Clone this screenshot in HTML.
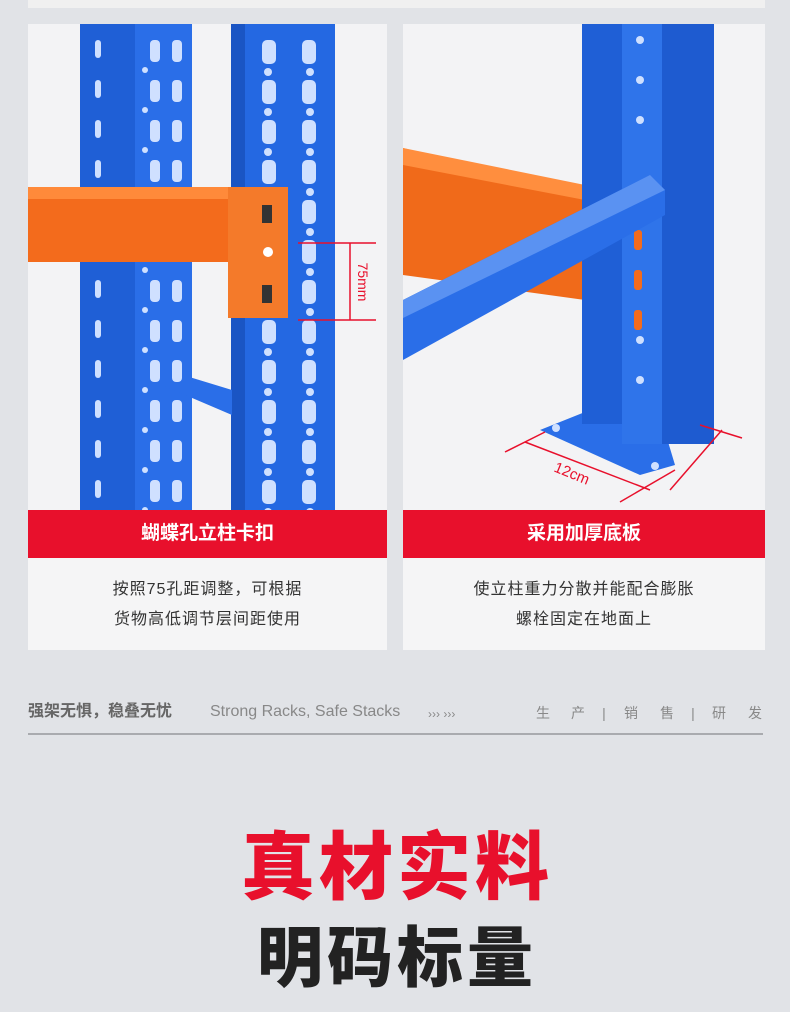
<!DOCTYPE html>
<html><head><meta charset="utf-8"><style>
body{margin:0;width:790px;height:1012px;background:#e1e3e7;position:relative;overflow:hidden;font-family:"Liberation Sans","Noto Sans CJK SC",sans-serif}
.card{position:absolute;top:24px;width:359px;height:626px;background:#f4f4f6}
.bar{position:absolute;top:486px;left:0;right:0;height:48px;background:#e8102c;color:#fff;font-size:19px;font-weight:bold;text-align:center;line-height:48px}
.txt{position:absolute;top:534px;left:0;right:0;height:92px;background:#f5f5f6;color:#333;font-size:16px;text-align:center;line-height:30px;padding-top:17px;box-sizing:border-box;letter-spacing:1px}
.ft{position:absolute;top:702px;color:#777;font-size:16px;line-height:20px}
.n{position:absolute;top:704px;color:#888;font-size:14px;line-height:18px;width:20px;text-align:center}
</style></head><body>
<div style="position:absolute;left:28px;top:0;width:737px;height:8px;background:#f0f0f0"></div>
<div class="card" style="left:28px">
<svg width="359" height="486" viewBox="28 24 359 486" style="position:absolute;left:0;top:0">
<rect x="28" y="24" width="359" height="486" fill="#f3f3f5"/>
<rect x="80" y="24" width="55" height="486" fill="#1f5fd6"/>
<rect x="135" y="24" width="57" height="486" fill="#2a6ee8"/>
<rect x="231" y="24" width="104" height="486" fill="#2468e2"/>
<rect x="231" y="24" width="14" height="486" fill="#1a55c4"/>
<polygon points="150,365 232,390 232,415 150,380" fill="#2a6ee8"/>
<g fill="#cfe0ff">
<g id="h"><rect x="150" y="40" width="10" height="22" rx="4"/><rect x="172" y="40" width="10" height="22" rx="4"/><circle cx="145" cy="70" r="3"/><rect x="95" y="40" width="6" height="18" rx="3"/></g>
<use href="#h" y="40"/><use href="#h" y="80"/><use href="#h" y="120"/><use href="#h" y="160"/><use href="#h" y="200"/><use href="#h" y="240"/><use href="#h" y="280"/><use href="#h" y="320"/><use href="#h" y="360"/><use href="#h" y="400"/><use href="#h" y="440"/>
<g id="g"><rect x="262" y="40" width="14" height="24" rx="5"/><rect x="302" y="40" width="14" height="24" rx="5"/><circle cx="268" cy="72" r="4"/><circle cx="310" cy="72" r="4"/></g>
<use href="#g" y="40"/><use href="#g" y="80"/><use href="#g" y="120"/><use href="#g" y="160"/><use href="#g" y="200"/><use href="#g" y="240"/><use href="#g" y="280"/><use href="#g" y="320"/><use href="#g" y="360"/><use href="#g" y="400"/><use href="#g" y="440"/>
</g>
<rect x="28" y="187" width="210" height="75" fill="#f36b1c"/>
<rect x="28" y="187" width="210" height="12" fill="#ff8a3a"/>
<rect x="228" y="187" width="60" height="131" fill="#f47a2a"/>
<rect x="262" y="205" width="10" height="18" fill="#333"/><circle cx="268" cy="252" r="5" fill="#fff"/><rect x="262" y="285" width="10" height="18" fill="#333"/>
<g stroke="#e8102c" stroke-width="1.5"><line x1="298" y1="243" x2="376" y2="243"/><line x1="298" y1="320" x2="376" y2="320"/><line x1="350" y1="243" x2="350" y2="320"/></g>
<text x="358" y="282" transform="rotate(90 358 282)" text-anchor="middle" font-size="14" fill="#e8102c" font-family="Liberation Sans">75mm</text>
</svg>
<div class="bar">蝴蝶孔立柱卡扣</div>
<div class="txt">按照75孔距调整，可根据<br>货物高低调节层间距使用</div>
</div>
<div class="card" style="left:403px;width:362px">
<svg width="362" height="486" viewBox="403 24 362 486" style="position:absolute;left:0;top:0">
<rect x="403" y="24" width="362" height="486" fill="#f3f3f5"/>
<polygon points="403,148 585,195 585,300 403,275" fill="#f06a1a"/>
<polygon points="403,148 585,185 585,200 403,165" fill="#ff8e3e"/>
<polygon points="540,430 590,410 660,415 675,465 640,475" fill="#2a6ee8"/>
<rect x="582" y="24" width="40" height="400" fill="#1f5fd6"/>
<rect x="622" y="24" width="40" height="420" fill="#2f74ea"/>
<rect x="662" y="24" width="52" height="420" fill="#1e5bd0"/>
<g fill="#f36b1c"><rect x="634" y="230" width="8" height="20" rx="3"/><rect x="634" y="270" width="8" height="20" rx="3"/><rect x="634" y="310" width="8" height="20" rx="3"/></g>
<g fill="#cfe0ff"><circle cx="640" cy="40" r="4"/><circle cx="640" cy="80" r="4"/><circle cx="640" cy="120" r="4"/><circle cx="640" cy="340" r="4"/><circle cx="640" cy="380" r="4"/><circle cx="556" cy="428" r="4"/><circle cx="655" cy="466" r="4"/></g>
<polygon points="403,300 650,175 665,190 665,215 403,360" fill="#2a6ee8"/>
<polygon points="403,300 650,175 665,190 403,318" fill="#5a92f2"/>
<g stroke="#e8102c" stroke-width="1.5"><line x1="505" y1="452" x2="545" y2="432"/><line x1="620" y1="502" x2="675" y2="470"/><line x1="525" y1="442" x2="650" y2="490"/><line x1="670" y1="490" x2="722" y2="430"/><line x1="700" y1="425" x2="742" y2="438"/></g>
<text x="570" y="478" transform="rotate(22 570 478)" text-anchor="middle" font-size="15" fill="#e8102c" font-family="Liberation Sans">12cm</text>
</svg>
<div class="bar">采用加厚底板</div>
<div class="txt">使立柱重力分散并能配合膨胀<br>螺栓固定在地面上</div>
</div>
<div class="ft" style="left:28px;font-weight:bold;color:#666">强架无惧，稳叠无忧</div>
<div class="ft" style="left:210px;color:#888">Strong Racks, Safe Stacks</div>
<div class="ft" style="left:428px;font-size:12px;top:704px;color:#888">››› ›››</div>
<div class="n" style="left:533px">生</div><div class="n" style="left:568px">产</div><div class="n" style="left:594px">|</div><div class="n" style="left:621px">销</div><div class="n" style="left:657px">售</div><div class="n" style="left:683px">|</div><div class="n" style="left:709px">研</div><div class="n" style="left:745px">发</div>
<div style="position:absolute;left:28px;top:733px;width:735px;height:2px;background:#a9abaf"></div>
<div style="position:absolute;left:0;width:790px;top:818px;text-align:center;font-size:74px;font-weight:900;color:#e8102c;line-height:100px;letter-spacing:4px;text-indent:4px">真材实料</div>
<div style="position:absolute;left:0;width:790px;top:912px;text-align:center;font-size:66px;font-weight:900;color:#222;line-height:92px;letter-spacing:4px;text-indent:4px">明码标量</div>
</body></html>
